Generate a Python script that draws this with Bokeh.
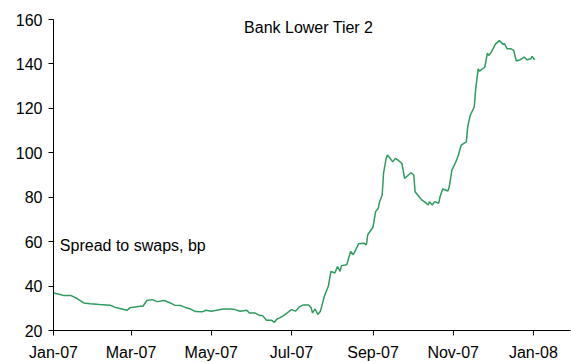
import pandas as pd
from bokeh.plotting import figure
from bokeh.models import FixedTicker, DatetimeTickFormatter, Range1d, Label
from bokeh.embed import file_html
from bokeh.resources import INLINE

dates = [
    "2007-01-01", "2007-01-06", "2007-01-09", "2007-01-14", "2007-01-19", "2007-01-24",
    "2007-01-29", "2007-02-05", "2007-02-13", "2007-02-18", "2007-02-26", "2007-02-28",
    "2007-03-08", "2007-03-10", "2007-03-13", "2007-03-17", "2007-03-21", "2007-03-26",
    "2007-03-31", "2007-04-03", "2007-04-08", "2007-04-12", "2007-04-15", "2007-04-19",
    "2007-04-24", "2007-04-27", "2007-05-01", "2007-05-05", "2007-05-10", "2007-05-15",
    "2007-05-19", "2007-05-23", "2007-05-28", "2007-05-30", "2007-06-03", "2007-06-07",
    "2007-06-09", "2007-06-12", "2007-06-16", "2007-06-18", "2007-06-20", "2007-06-22",
    "2007-06-25", "2007-06-27", "2007-07-01", "2007-07-04", "2007-07-07", "2007-07-10",
    "2007-07-14", "2007-07-16", "2007-07-17", "2007-07-19", "2007-07-21", "2007-07-23",
    "2007-07-25", "2007-07-26", "2007-07-29", "2007-07-31", "2007-08-03", "2007-08-05",
    "2007-08-07", "2007-08-08", "2007-08-12", "2007-08-15", "2007-08-17", "2007-08-21",
    "2007-08-25", "2007-08-27", "2007-08-28", "2007-09-01", "2007-09-03", "2007-09-05",
    "2007-09-06", "2007-09-08", "2007-09-09", "2007-09-11", "2007-09-12", "2007-09-14",
    "2007-09-16", "2007-09-18", "2007-09-20", "2007-09-23", "2007-09-25", "2007-09-28",
    "2007-09-30", "2007-10-02", "2007-10-03", "2007-10-05", "2007-10-08", "2007-10-10",
    "2007-10-13", "2007-10-14", "2007-10-16", "2007-10-18", "2007-10-21", "2007-10-22",
    "2007-10-24", "2007-10-28", "2007-10-29", "2007-10-31", "2007-11-03", "2007-11-05",
    "2007-11-07", "2007-11-11", "2007-11-12", "2007-11-14", "2007-11-17", "2007-11-18",
    "2007-11-20", "2007-11-21", "2007-11-25", "2007-11-27", "2007-11-28", "2007-11-30",
    "2007-12-03", "2007-12-06", "2007-12-09", "2007-12-10", "2007-12-12", "2007-12-15",
    "2007-12-17", "2007-12-19", "2007-12-22", "2007-12-25", "2007-12-27", "2007-12-30",
    "2007-12-31", "2008-01-02",
]
spread = [
    36.9, 36.2, 35.7, 35.8, 34.4, 32.4,
    32.0, 31.7, 31.4, 30.2, 29.1, 30.2,
    30.9, 30.9, 33.5, 33.9, 33.0, 33.5,
    32.4, 31.4, 31.2, 30.2, 29.7, 28.5,
    28.4, 29.1, 28.7, 29.1, 29.7, 29.7,
    29.4, 28.7, 29.1, 27.9, 27.9, 26.7,
    26.7, 24.6, 24.6, 23.7, 25.2, 25.7,
    26.7, 27.6, 29.4, 28.7, 30.6, 31.5,
    31.5, 30.2, 27.9, 29.7, 27.2, 28.7,
    33.1, 35.4, 39.9, 46.6, 45.9, 48.8,
    46.6, 49.2, 49.6, 55.6, 54.1, 59.0,
    59.3, 58.6, 63.1, 66.5, 73.5, 75.0,
    78.0, 81.0, 90.7, 97.5, 99.0, 97.5,
    95.9, 97.5, 96.7, 95.2, 88.5, 90.0,
    91.0, 90.0, 82.5, 81.0, 78.8, 78.0,
    76.5, 78.0, 76.5, 78.0, 77.3, 80.2,
    83.7, 82.8, 84.7, 92.2, 95.9, 99.0,
    103.4, 104.9, 111.7, 116.9, 120.6, 128.1,
    137.8, 136.8, 138.5, 144.9, 143.8, 145.3,
    148.8, 150.5, 148.8, 149.1, 146.8, 146.8,
    146.1, 141.3, 141.9, 143.1, 141.9, 142.3,
    143.4, 141.9,
]
tick_dates = ["2007-01-01", "2007-03-01", "2007-05-01", "2007-07-01",
              "2007-09-01", "2007-11-01", "2008-01-01"]
y_ticks = [20, 40, 60, 80, 100, 120, 140, 160]
title_text = "Bank Lower Tier 2"
unit_text = "Spread to swaps, bp"

FONT = "Liberation Sans"

def ms(s):
    return pd.Timestamp(s).timestamp() * 1000.0

x = pd.to_datetime(dates)

p = figure(
    width=571, height=363, x_axis_type="datetime",
    output_backend="svg", toolbar_location=None,
    x_range=Range1d(start=ms("2007-01-01"), end=ms("2008-01-29 05:00")),
    y_range=Range1d(start=20, end=160),
    min_border_left=53, min_border_right=1, min_border_top=19, min_border_bottom=32,
)
p.outline_line_color = None
p.background_fill_color = "white"
p.border_fill_color = "white"
p.xgrid.visible = False
p.ygrid.visible = False

p.line(x, spread, line_color="#2E9B5F", line_width=1.5)

p.xaxis.ticker = FixedTicker(ticks=[ms(d) for d in tick_dates])
fmt = "%b-%y"
p.xaxis.formatter = DatetimeTickFormatter(
    microseconds=fmt, milliseconds=fmt, seconds=fmt, minsec=fmt, minutes=fmt,
    hourmin=fmt, hours=fmt, days=fmt, months=fmt, years=fmt,
)
p.yaxis.ticker = FixedTicker(ticks=y_ticks)

for ax in (p.xaxis[0], p.yaxis[0]):
    ax.axis_line_color = "black"
    ax.axis_line_width = 1
    ax.major_tick_line_color = "black"
    ax.major_tick_out = 5
    ax.major_tick_in = 0
    ax.minor_tick_line_color = None
    ax.major_label_text_font = FONT
    ax.major_label_text_font_size = "16px"
    ax.major_label_text_color = "black"
p.xaxis.major_label_standoff = 8
p.yaxis.major_label_standoff = 6

p.add_layout(Label(x=ms("2007-07-14 02:00"), y=156.4, text=title_text,
                   text_align="center", text_baseline="middle",
                   text_font=FONT, text_font_size="16px", text_color="black"))
p.add_layout(Label(x=ms("2007-01-05 20:00"), y=58.1, text=unit_text,
                   text_align="left", text_baseline="middle",
                   text_font=FONT, text_font_size="16px", text_color="black"))

open("out.html", "w").write(file_html(p, INLINE))
